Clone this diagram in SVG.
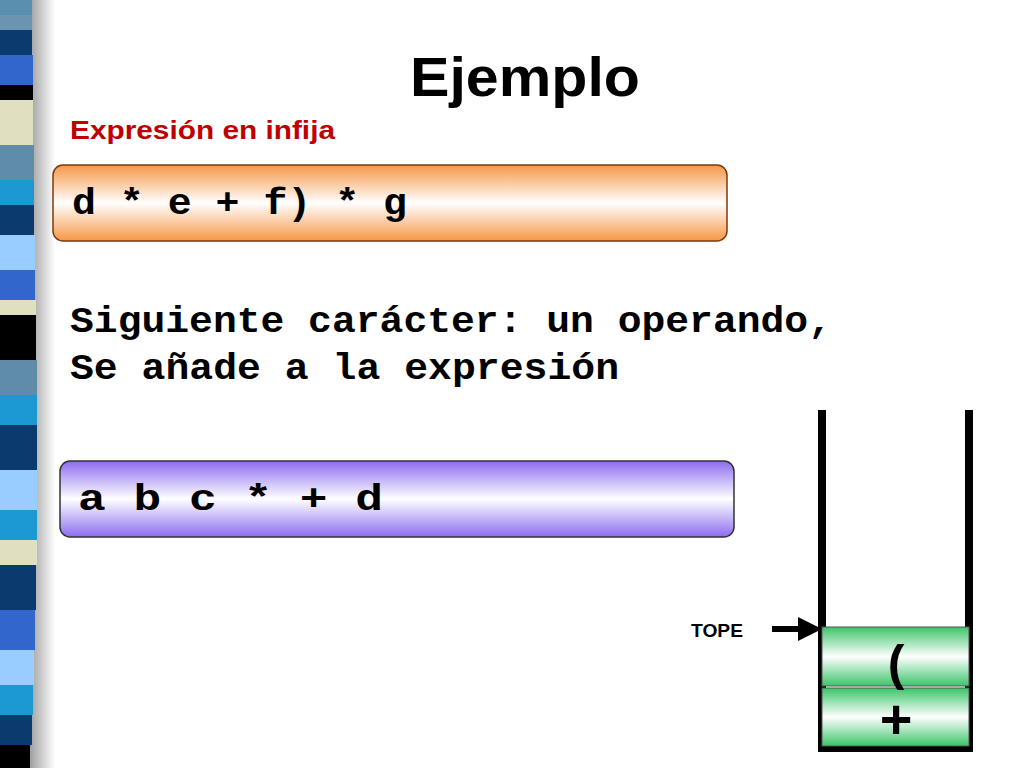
<svg xmlns="http://www.w3.org/2000/svg" width="1024" height="768" viewBox="0 0 1024 768">
<defs>
<linearGradient id="shadow" x1="0" x2="1" y1="0" y2="0"><stop offset="0" stop-color="#a0a0a0"/><stop offset="1" stop-color="#fff"/></linearGradient>
<linearGradient id="orange" x1="0" x2="0" y1="0" y2="1"><stop offset="0" stop-color="#f79646"/><stop offset="0.5" stop-color="#fff"/><stop offset="1" stop-color="#f79646"/></linearGradient>
<linearGradient id="purple" x1="0" x2="0" y1="0" y2="1"><stop offset="0" stop-color="#8c6cf0"/><stop offset="0.5" stop-color="#fff"/><stop offset="1" stop-color="#8c6cf0"/></linearGradient>
<linearGradient id="green" x1="0" x2="0" y1="0" y2="1"><stop offset="0" stop-color="#3cc46a"/><stop offset="0.5" stop-color="#fff"/><stop offset="1" stop-color="#3cc46a"/></linearGradient>
<marker id="arr" markerWidth="4" markerHeight="4" refX="3" refY="2" orient="auto" markerUnits="strokeWidth"><path d="M0,0 L4,2 L0,4 z" fill="#000"/></marker>
<style>
.mono{font-family:"Liberation Mono","Courier New",monospace;font-weight:bold;font-size:37px;fill:#000}
.sans{font-family:"Liberation Sans",Arial,sans-serif;font-weight:bold}
</style>
</defs>
<rect width="1024" height="768" fill="#fff"/>
<g id="stripes">
<rect x="30" y="0" width="25" height="768" fill="url(#shadow)"/>
<rect x="0" y="0" width="32" height="15" fill="#5b8fb0"/>
<rect x="0" y="15" width="32" height="15" fill="#6a94b0"/>
<rect x="0" y="30" width="32" height="25" fill="#0a3a6e"/>
<rect x="0" y="55" width="33" height="30" fill="#3366cc"/>
<rect x="0" y="85" width="33" height="15" fill="#000"/>
<rect x="0" y="100" width="33" height="45" fill="#e0e0c0"/>
<rect x="0" y="145" width="34" height="35" fill="#5f8ca8"/>
<rect x="0" y="180" width="34" height="25" fill="#1a9ad0"/>
<rect x="0" y="205" width="34" height="30" fill="#0a3a6e"/>
<rect x="0" y="235" width="35" height="35" fill="#99ccff"/>
<rect x="0" y="270" width="35" height="30" fill="#3366cc"/>
<rect x="0" y="300" width="36" height="15" fill="#e0e0c0"/>
<rect x="0" y="315" width="36" height="45" fill="#000"/>
<rect x="0" y="360" width="37" height="35" fill="#5f8ca8"/>
<rect x="0" y="395" width="37" height="30" fill="#1a9ad0"/>
<rect x="0" y="425" width="37" height="45" fill="#0a3a6e"/>
<rect x="0" y="470" width="37" height="40" fill="#99ccff"/>
<rect x="0" y="510" width="37" height="30" fill="#1a9ad0"/>
<rect x="0" y="540" width="37" height="25" fill="#e0e0c0"/>
<rect x="0" y="565" width="36" height="45" fill="#0a3a6e"/>
<rect x="0" y="610" width="35" height="40" fill="#3366cc"/>
<rect x="0" y="650" width="34" height="35" fill="#99ccff"/>
<rect x="0" y="685" width="33" height="30" fill="#1a9ad0"/>
<rect x="0" y="715" width="32" height="30" fill="#0a3a6e"/>
<rect x="0" y="745" width="30" height="23" fill="#000"/>
</g>
<g id="title"><text x="525" y="96" text-anchor="middle" class="sans" font-size="56" textLength="230" lengthAdjust="spacingAndGlyphs">Ejemplo</text></g>
<g id="subtitle"><text x="70" y="139" class="sans" font-size="25" fill="#c00000" textLength="265" lengthAdjust="spacingAndGlyphs">Expresión en infija</text></g>
<g id="infix"><rect x="53" y="165" width="674" height="76" rx="10" fill="url(#orange)" stroke="#7a3a10" stroke-width="1.5"/>
<text x="72" y="214" class="mono" textLength="335" lengthAdjust="spacingAndGlyphs">d * e + f) * g</text></g>
<g id="msg"><text x="70" y="332" class="mono" textLength="762" lengthAdjust="spacingAndGlyphs">Siguiente carácter: un operando,</text>
<text x="70" y="379" class="mono" textLength="549" lengthAdjust="spacingAndGlyphs">Se añade a la expresión</text></g>
<g id="postfix"><rect x="60" y="461" width="674" height="76" rx="10" fill="url(#purple)" stroke="#333" stroke-width="1.5"/>
<text x="78" y="510" class="mono" textLength="305" lengthAdjust="spacingAndGlyphs">a  b  c * + d</text></g>
<g id="stack">
<path d="M822,410 V748 H969 V410" fill="none" stroke="#000" stroke-width="8"/>
<rect x="822" y="627" width="147" height="59" fill="url(#green)" stroke="#555" stroke-width="1"/>
<rect x="822" y="688" width="147" height="58" fill="url(#green)" stroke="#555" stroke-width="1"/>
<text x="896" y="680" text-anchor="middle" class="sans" font-size="50">(</text>
<text x="896" y="738" text-anchor="middle" class="sans" font-size="56">+</text>
</g>
<g id="connectors"><line x1="772" y1="629" x2="816" y2="629" stroke="#000" stroke-width="6" marker-end="url(#arr)"/></g>
<g id="tope"><text x="691" y="637" class="sans" font-size="18" textLength="52" lengthAdjust="spacingAndGlyphs">TOPE</text></g>
</svg>
